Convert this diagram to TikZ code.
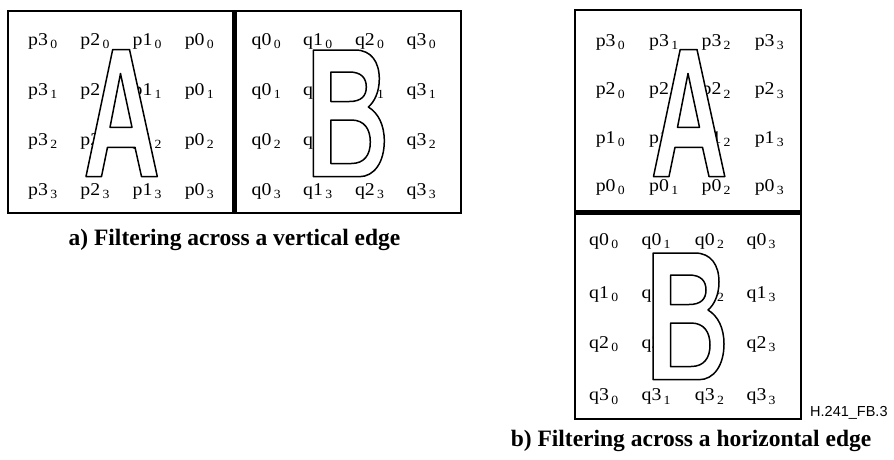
\documentclass[tikz,border=0pt]{standalone}
\usepackage{fontspec}
\setmainfont{Liberation Serif}
\newfontfamily\lblfont[FakeStretch=1.1]{Liberation Serif}
\newfontfamily\tagfont{Liberation Sans}
\usepackage{graphicx}
\newcommand\idx[2]{#1\kern2.3pt\raisebox{-3.4pt}{\fontsize{12.5}{12.5}\selectfont#2}}

\begin{document}
\begin{tikzpicture}[x=1pt,y=-1pt,
  frame/.style={draw,line width=1.6pt},
  divider/.style={line width=5.5pt},
  sample/.style={anchor=base west,inner sep=0pt,font=\lblfont\fontsize{18}{18}\selectfont},
  glyph/.style={draw,line width=1.5pt,line join=round},
  caption/.style={anchor=base,inner sep=0pt,font=\bfseries\fontsize{23.5}{23.5}\selectfont},
  letterA/.pic={
    \draw[glyph,fill=white] (-35,127) -- (-8.3,0) -- (8.5,0) -- (36.3,127) -- (20.5,127)
      -- (14,97.8) -- (-13.5,97.8) -- (-19.5,127) -- cycle;
    \draw[glyph] (-0.5,24) -- (11,77.8) -- (-11,77.8) -- cycle;
  },
  letterB/.pic={
    \draw[glyph,fill=white] (0,0) -- (42,0) .. controls (58,0) and (66,12) .. (66,29)
      .. controls (66,42) and (61,52) .. (55,57) .. controls (65,63) and (71,75) .. (71,91)
      .. controls (71,112) and (61,126.7) .. (46,126.7) -- (0,126.7) -- cycle;
    \draw[glyph] (17.5,22) -- (36,22) .. controls (48,22) and (53,28) .. (53,37)
      .. controls (53,46) and (48,51.5) .. (36,51.5) -- (17.5,51.5) -- cycle;
    \draw[glyph] (17.5,70) -- (38,70) .. controls (51,70) and (57,79) .. (57,92)
      .. controls (57,105) and (51,113.5) .. (38,113.5) -- (17.5,113.5) -- cycle;
  },
]
  \useasboundingbox (0,0) rectangle (894,459);

  % a) vertical edge
  \draw[frame] (8,11) rectangle (461,213);
  \draw[divider] (234.5,11) -- (234.5,213);
  \foreach \j/\y in {0/45.3,1/95.3,2/145.3,3/195.3}{
    \foreach \i/\x in {0/28,1/80.2,2/132.4,3/184.6}{
      \pgfmathtruncatemacro\k{3-\i}
      \node[sample] (pv-\i-\j) at (\x,\y) {\idx{p\k}{\j}};
    }
    \foreach \i/\x in {0/251.5,1/303,2/354.8,3/406.5}
      \node[sample] (qv-\i-\j) at (\x,\y) {\idx{q\i}{\j}};
  }
  \pic at (121,49.5) {letterA};
  \pic at (313.3,50) {letterB};
  \node[caption] (capa) at (234.5,245) {a) Filtering across a vertical edge};

  % b) horizontal edge
  \draw[frame] (575,10) rectangle (801,419);
  \draw[divider] (575,212.5) -- (801,212.5);
  \foreach \j/\y in {0/46.3,1/94.7,2/143.2,3/191.3}{
    \pgfmathtruncatemacro\k{3-\j}
    \foreach \i/\x in {0/595.6,1/649,2/701.4,3/754.6}
      \node[sample] (ph-\i-\j) at (\x,\y) {\idx{p\k}{\i}};
  }
  \foreach \j/\y in {0/245,1/298,2/348,3/400.7}{
    \foreach \i/\x in {0/589,1/641.4,2/694.7,3/746.4}
      \node[sample] (qh-\i-\j) at (\x,\y) {\idx{q\j}{\i}};
  }
  \pic at (688.5,49.5) {letterA};
  \pic at (653,253) {letterB};
  \node[caption] (capb) at (691,446) {b) Filtering across a horizontal edge};

  \node[anchor=base west,inner sep=0pt,font=\tagfont\fontsize{14.5}{14.5}\selectfont] (tag)
    at (810,416.7) {H.241\_FB.3};
\end{tikzpicture}
\end{document}
